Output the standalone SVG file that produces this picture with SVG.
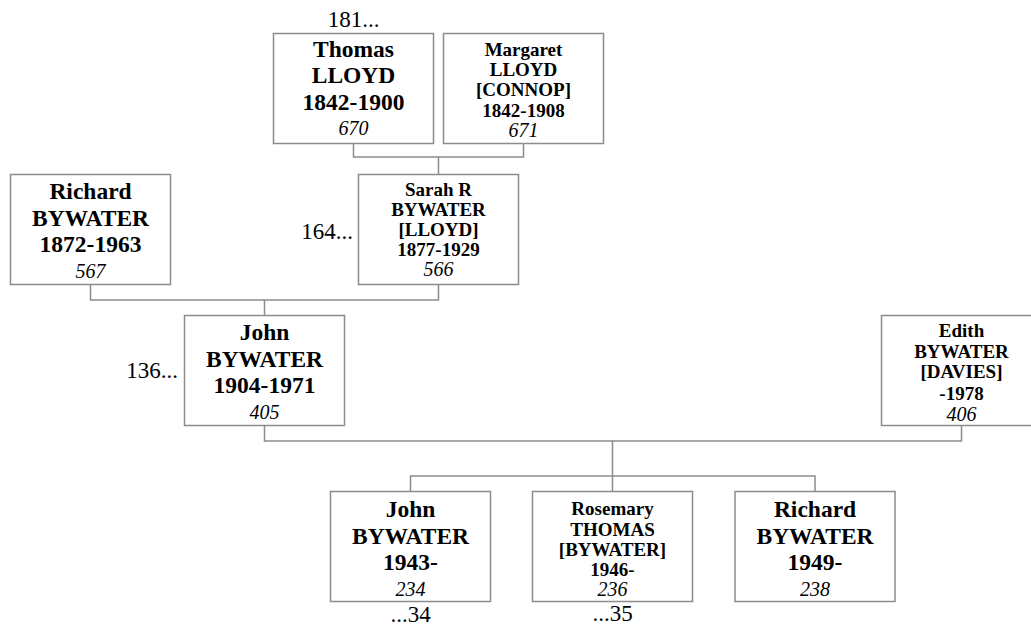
<svg xmlns="http://www.w3.org/2000/svg" width="1031" height="627" viewBox="0 0 1031 627">
<style>
.box{fill:#fff;stroke:#8c8c8c;stroke-width:1.5}
.con{fill:none;stroke:#8c8c8c;stroke-width:1.5}
text{font-family:"Liberation Serif","Times New Roman",serif;fill:#000;text-anchor:middle}
.b{font-weight:bold;font-size:23.5px}
.s{font-weight:bold;font-size:19px}
.n{font-style:italic;font-size:20px}
.lbl{font-size:23px}
</style>
<rect width="1031" height="627" fill="#fff"/>
<g id="connectors">
<path class="con" d="M353.5,143.5V157H523.5V143.5M438.5,157V174.5"/>
<path class="con" d="M90.5,284.5V300H438.5V284.5M264.5,300V315.5"/>
<path class="con" d="M264.5,425.5V441H961.5V425.5M612.5,441V491.5M410.5,491.5V476H815V491.5"/>
</g>
<g id="n670">
<rect class="box" x="273.5" y="33.5" width="160" height="110"/>
<text class="b" x="353.5" y="56.5">Thomas</text>
<text class="b" x="353.5" y="83">LLOYD</text>
<text class="b" x="353.5" y="109.5">1842-1900</text>
<text class="n" x="353.5" y="135">670</text>
</g>
<g id="n671">
<rect class="box" x="443.5" y="33.5" width="160" height="110"/>
<text class="s" x="523.5" y="56">Margaret</text>
<text class="s" x="523.5" y="76">LLOYD</text>
<text class="s" x="523.5" y="96">[CONNOP]</text>
<text class="s" x="523.5" y="116.5">1842-1908</text>
<text class="n" x="523.5" y="137">671</text>
</g>
<g id="n567">
<rect class="box" x="10.5" y="174.5" width="160" height="110"/>
<text class="b" x="90.5" y="199">Richard</text>
<text class="b" x="90.5" y="225.5">BYWATER</text>
<text class="b" x="90.5" y="252">1872-1963</text>
<text class="n" x="90.5" y="278">567</text>
</g>
<g id="n566">
<rect class="box" x="358.5" y="174.5" width="160" height="110"/>
<text class="s" x="438.5" y="196">Sarah R</text>
<text class="s" x="438.5" y="216">BYWATER</text>
<text class="s" x="438.5" y="236">[LLOYD]</text>
<text class="s" x="438.5" y="256">1877-1929</text>
<text class="n" x="438.5" y="276">566</text>
</g>
<g id="n405">
<rect class="box" x="184.5" y="315.5" width="160" height="110"/>
<text class="b" x="264.5" y="340">John</text>
<text class="b" x="264.5" y="366.5">BYWATER</text>
<text class="b" x="264.5" y="393">1904-1971</text>
<text class="n" x="264.5" y="419">405</text>
</g>
<g id="n406">
<rect class="box" x="881.5" y="315.5" width="160" height="110"/>
<text class="s" x="961.5" y="337">Edith</text>
<text class="s" x="961.5" y="357.5">BYWATER</text>
<text class="s" x="961.5" y="378">[DAVIES]</text>
<text class="s" x="961.5" y="399.5">-1978</text>
<text class="n" x="961.5" y="421">406</text>
</g>
<g id="n234">
<rect class="box" x="330.5" y="491.5" width="160" height="110"/>
<text class="b" x="410.5" y="517">John</text>
<text class="b" x="410.5" y="543.5">BYWATER</text>
<text class="b" x="410.5" y="570">1943-</text>
<text class="n" x="410.5" y="595.5">234</text>
</g>
<g id="n236">
<rect class="box" x="532.5" y="491.5" width="160" height="110"/>
<text class="s" x="612.5" y="515">Rosemary</text>
<text class="s" x="612.5" y="535.5">THOMAS</text>
<text class="s" x="612.5" y="555.5">[BYWATER]</text>
<text class="s" x="612.5" y="575.5">1946-</text>
<text class="n" x="612.5" y="596">236</text>
</g>
<g id="n238">
<rect class="box" x="735" y="491.5" width="160" height="110"/>
<text class="b" x="815" y="517">Richard</text>
<text class="b" x="815" y="543.5">BYWATER</text>
<text class="b" x="815" y="570">1949-</text>
<text class="n" x="815" y="595.5">238</text>
</g>
<g id="labels">
<text class="lbl" x="353.5" y="27">181...</text>
<text class="lbl" x="353" y="239" style="text-anchor:end">164...</text>
<text class="lbl" x="178" y="378" style="text-anchor:end">136...</text>
<text class="lbl" x="410.5" y="622">...34</text>
<text class="lbl" x="612.5" y="621">...35</text>
</g>
</svg>
